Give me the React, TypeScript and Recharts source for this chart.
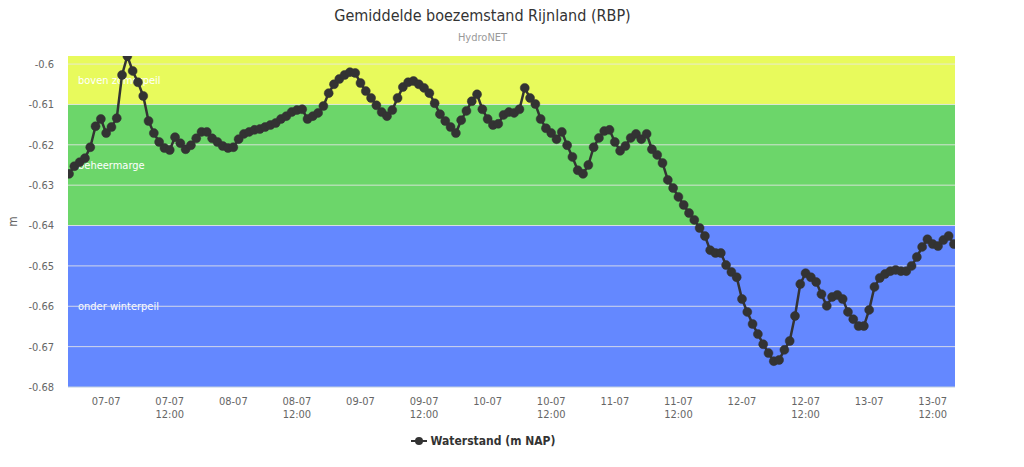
import React from "react";
import {
  LineChart,
  Line,
  XAxis,
  YAxis,
  ReferenceArea,
  ReferenceLine,
  Legend,
} from "recharts";

// hours relative to 07-07 00:00, one value per hour starting at firstHour
const firstHour = -7;
const waterstand = [
  -0.6272, -0.6253, -0.6243, -0.6233, -0.6206, -0.6154, -0.6136,
  -0.6171, -0.6156, -0.6134, -0.6027, -0.598, -0.6017, -0.6045, -0.6079,
  -0.6141, -0.6171, -0.6193, -0.6208, -0.6213, -0.6181, -0.6196, -0.6211,
  -0.6201, -0.6184, -0.6168, -0.6168, -0.6184, -0.6193, -0.6203, -0.6208,
  -0.6206, -0.6186, -0.6173, -0.6168, -0.6163, -0.6161, -0.6156, -0.6151,
  -0.6146, -0.6136, -0.6129, -0.6119, -0.6114, -0.6112, -0.6136, -0.6129,
  -0.6121, -0.6104, -0.6072, -0.605, -0.6037, -0.6027, -0.602, -0.6022,
  -0.6047, -0.6067, -0.6084, -0.6102, -0.6119, -0.6129, -0.6114, -0.6084,
  -0.6057, -0.6045, -0.6042, -0.605, -0.6059, -0.6072, -0.6097, -0.6124,
  -0.6141, -0.6156, -0.6171, -0.6139, -0.6116, -0.6092, -0.6075, -0.6112,
  -0.6136, -0.6151, -0.6148, -0.6126, -0.6119, -0.6121, -0.6112, -0.6059,
  -0.6084, -0.6099, -0.6136, -0.6159, -0.6171, -0.6186, -0.6168, -0.6201,
  -0.623, -0.6263, -0.6272, -0.625, -0.6206, -0.6183, -0.6166, -0.6163,
  -0.6193, -0.6215, -0.6203, -0.6183, -0.6173, -0.6186, -0.6173, -0.6211,
  -0.6225, -0.6245, -0.6287, -0.6307, -0.6329, -0.6349, -0.6369, -0.6386,
  -0.6406, -0.6426, -0.6461, -0.6468, -0.6468, -0.6498, -0.6515, -0.6528,
  -0.6582, -0.6614, -0.6644, -0.6669, -0.6694, -0.6716, -0.6736, -0.6733,
  -0.6708, -0.6686, -0.6624, -0.6545, -0.6518, -0.6528, -0.654, -0.657,
  -0.6599, -0.6577, -0.6572, -0.6582, -0.6614, -0.6632, -0.6649, -0.6649,
  -0.6609, -0.6552, -0.653, -0.652, -0.6513, -0.651, -0.6513, -0.6513,
  -0.65, -0.6478, -0.6453, -0.6434, -0.6446, -0.6451, -0.6436, -0.6426,
  -0.6446,
];

const xTicks = [0, 12, 24, 36, 48, 60, 72, 84, 96, 108, 120, 132, 144, 156];
const xTickDates = [
  "07-07", "07-07", "08-07", "08-07", "09-07", "09-07", "10-07",
  "10-07", "11-07", "11-07", "12-07", "12-07", "13-07", "13-07",
];
const xTickTimes = ["", "12:00", "", "12:00", "", "12:00", "", "12:00", "", "12:00", "", "12:00", "", "12:00"];
const yTicks = [-0.68, -0.67, -0.66, -0.65, -0.64, -0.63, -0.62, -0.61, -0.6];

const bandNames = ["boven zomerpeil", "beheermarge", "onder winterpeil"];
const bandFrom = [-0.61, -0.64, -0.68];
const bandTo = [-0.598, -0.61, -0.64];
const bandColors = ["#E8FA5C", "#6CD66A", "#6488FF"];

const data = waterstand.map((v, i) => ({ t: firstHour + i, v }));

const FONT = "'DejaVu Sans Condensed', 'Liberation Sans', Arial, sans-serif";

const XTick = (props: any) => {
  const { x, y, payload } = props;
  const idx = xTicks.indexOf(payload.value);
  return (
    <g transform={`translate(${x},${y})`}>
      <text x={0} y={12} textAnchor="middle" fill="#666" fontSize={11} fontFamily={FONT}>
        {xTickDates[idx]}
      </text>
      {xTickTimes[idx] ? (
        <text x={0} y={25} textAnchor="middle" fill="#666" fontSize={11} fontFamily={FONT}>
          {xTickTimes[idx]}
        </text>
      ) : null}
    </g>
  );
};

const makeBandShape = (name: string, color: string) => (props: any) => {
  const { x, y, width, height } = props;
  return (
    <g>
      <rect x={x} y={y} width={width} height={height} fill={color} />
      <text
        x={x + 10}
        y={y + height / 2}
        dy="0.35em"
        fill="#ffffff"
        fontSize={11}
        fontFamily={FONT}
      >
        {name}
      </text>
    </g>
  );
};

const LegendContent = () => (
  <div
    style={{
      display: "flex",
      justifyContent: "center",
      alignItems: "center",
      fontFamily: FONT,
      fontSize: 12,
      fontWeight: "bold",
      color: "#333",
      height: 40,
    }}
  >
    <svg width={18} height={10} style={{ marginRight: 3 }}>
      <line x1={1} y1={5} x2={17} y2={5} stroke="#333" strokeWidth={2} />
      <circle cx={9} cy={5} r={4} fill="#333" />
    </svg>
    <span>Waterstand (m NAP)</span>
  </div>
);

export default function App() {
  return (
    <div
      style={{
        position: "absolute",
        left: 0,
        top: 0,
        width: 1024,
        height: 467,
        background: "#fff",
        fontFamily: FONT,
      }}
    >
      <div
        style={{
          position: "absolute",
          left: 0,
          width: 965,
          top: 6,
          textAlign: "center",
          fontSize: 16,
          color: "#333",
        }}
      >
        Gemiddelde boezemstand Rijnland (RBP)
      </div>
      <div
        style={{
          position: "absolute",
          left: 0,
          width: 965,
          top: 31,
          textAlign: "center",
          fontSize: 11,
          color: "#999",
        }}
      >
        HydroNET
      </div>
      <LineChart
        width={1024}
        height={467}
        data={data}
        margin={{ top: 56, right: 69, left: 0, bottom: 10 }}
      >
        {bandNames.map((name, i) => (
          <ReferenceArea
            key={name}
            y1={bandFrom[i]}
            y2={bandTo[i]}
            fill={bandColors[i]}
            fillOpacity={1}
            stroke="none"
            ifOverflow="hidden"
            shape={makeBandShape(name, bandColors[i])}
          />
        ))}
        {yTicks.slice(1).map((t) => (
          <ReferenceLine key={t} y={t} stroke="#e6e6e6" strokeOpacity={0.85} strokeWidth={1} />
        ))}
        <XAxis
          dataKey="t"
          type="number"
          domain={[-7.2, 160.2]}
          ticks={xTicks}
          tick={<XTick />}
          tickLine={false}
          axisLine={{ stroke: "#C0D0E0" }}
          height={30}
          tickSize={4}
          tickMargin={2}
          allowDataOverflow
        />
        <YAxis
          type="number"
          domain={[-0.68, -0.598]}
          ticks={yTicks}
          width={68}
          tickLine={false}
          axisLine={false}
          tickSize={8}
          tickMargin={6}
          allowDataOverflow
          tickFormatter={(v: number) => String(Number(v.toFixed(2)))}
          tick={{ fill: "#666", fontSize: 11, fontFamily: FONT }}
          label={{
            value: "m",
            angle: -90,
            position: "insideLeft",
            offset: 13,
            fill: "#666",
            fontSize: 12,
            fontFamily: FONT,
            style: { textAnchor: "middle" },
          }}
        />
        <Legend
          verticalAlign="bottom"
          height={40}
          content={<LegendContent />}
          wrapperStyle={{ left: 0, width: 965, bottom: 6 }}
        />
        <Line
          type="linear"
          dataKey="v"
          name="Waterstand (m NAP)"
          stroke="#333"
          strokeWidth={2.5}
          dot={{ r: 4.5, fill: "#333", stroke: "#333", strokeWidth: 0.5 }}
          isAnimationActive={false}
        />
      </LineChart>
    </div>
  );
}
